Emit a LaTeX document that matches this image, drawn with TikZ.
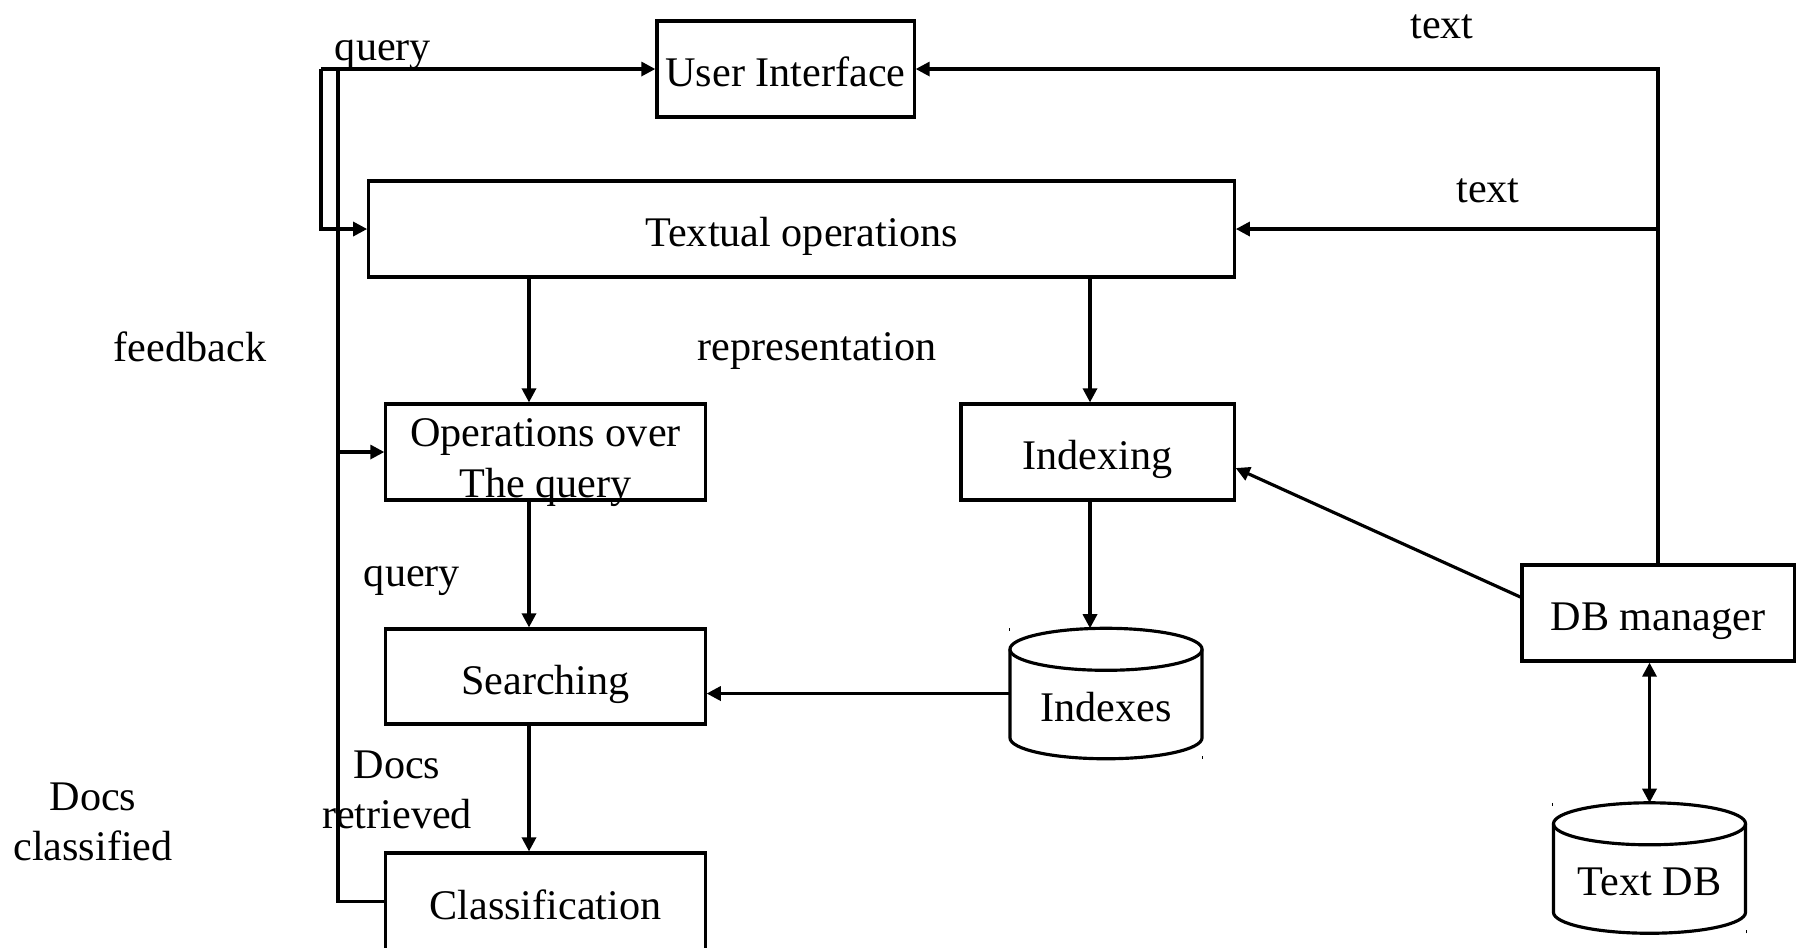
\documentclass[tikz,border=0pt]{standalone}
\usepackage{fontspec}
\setmainfont{Liberation Serif}
\usetikzlibrary{arrows.meta}

% outline of a database drum around a (rectangular, undrawn) node
\newcommand\storeoutline[1]{%
  \draw[conn] ([yshift=-0.21cm]#1.north) ellipse[x radius=0.96cm, y radius=0.21cm];
  \draw[conn] ([shift={(-0.96cm,-0.21cm)}]#1.north) -- ([shift={(-0.96cm,0.21cm)}]#1.south)
    arc[start angle=180, end angle=360, x radius=0.96cm, y radius=0.21cm]
    -- ([shift={(0.96cm,-0.21cm)}]#1.north);
  \draw[line width=0.3pt] (#1.north west) -- ++(0,-0.03cm);
  \draw[line width=0.3pt] (#1.south east) -- ++(0,0.03cm);
}

\begin{document}
\begin{tikzpicture}[x=0.01cm, y=-0.01cm,
  every node/.style={font=\fontsize{12}{14.3}\selectfont, inner sep=0pt},
  box/.style={draw, rectangle, line width=0.9pt, text height=10.2pt, text depth=0pt},
  store/.style={rectangle, minimum width=1.92cm, minimum height=1.29cm,
                text height=15.9pt, text depth=0pt},
  lbl/.style={align=center},
  conn/.style={line width=0.9pt},
  arr/.style={conn, -{Triangle[length=4pt,width=4pt]}},
  darr/.style={conn, {Triangle[length=4pt,width=4pt]}-{Triangle[length=4pt,width=4pt]}}
]
\useasboundingbox (0,0) rectangle (1800,947);
\fill[white] (0,0) rectangle (1800,947);
\clip (0,0) rectangle (1800,947);

% processing boxes
\node[box, minimum width=2.57cm, minimum height=0.96cm] (ui)   at (785.5,69)  {User Interface};
\node[box, minimum width=8.65cm, minimum height=0.96cm] (txt)  at (801.5,229) {Textual operations};
\node[box, minimum width=3.19cm, minimum height=0.96cm, align=center,
      font=\fontsize{12}{14.7}\selectfont, text height=26pt, text depth=0pt]
                                                        (ops)  at (545.5,452) {Operations over\\The query};
\node[box, minimum width=2.73cm, minimum height=0.96cm] (ixg)  at (1097.5,452) {Indexing};
\node[box, minimum width=3.19cm, minimum height=0.95cm] (srch) at (545.5,676.5) {Searching};
\node[box, minimum width=3.19cm, minimum height=0.97cm] (cls)  at (545.5,901.5) {Classification};
\node[box, minimum width=2.72cm, minimum height=0.96cm] (db)   at (1658,613)  {DB manager};

% data stores
\node[store] (idx) at (1106,693.5) {Indexes};
\node[store] (tdb) at (1649.5,868) {Text DB};
\storeoutline{idx}
\storeoutline{tdb}

% routing points
\coordinate (qtop)  at (321,69);
\coordinate (fbtop) at (338,69);
\coordinate (rtop)  at (1658,69);
\coordinate (colL)  at (529,0);
\coordinate (colR)  at (1090,0);

% query and feedback loop on the left
\draw[arr] (qtop) -- (ui.west);
\draw[arr] (qtop) |- (txt.west);
\draw[conn] (cls.west) -| (fbtop);
\draw[arr] (fbtop |- ops.west) -- (ops.west);

% text from the database manager
\draw[arr] (db.north) -- (rtop) -- (ui.east);
\draw[arr] (rtop |- txt.east) -- (txt.east);

% main pipeline
\draw[arr] (txt.south -| colL) -- (ops.north -| colL);
\draw[arr] (ops.south -| colL) -- (srch.north -| colL);
\draw[arr] (srch.south -| colL) -- (cls.north -| colL);
\draw[arr] (txt.south -| colR) -- (ixg.north -| colR);
\draw[arr] (ixg.south -| colR) -- (idx.north -| colR);
\draw[arr] (idx.west) -- (srch.east |- idx.west);
\draw[arr] ([yshift=0.16cm]db.west) -- ([yshift=-0.16cm]ixg.east);
\draw[darr] (db.south -| tdb.north) -- (tdb.north);

% labels
\node[anchor=base] (lq1)  at (383,60)  {query};
\node[anchor=base] (lt1)  at (1442,38) {text};
\node[anchor=base] (lt2)  at (1488,202) {text};
\node[anchor=base] (lfb)  at (190,361) {feedback};
\node[anchor=base] (lrep) at (817,360) {representation};
\node[anchor=base] (lq2)  at (412,586) {query};
\node[lbl] (ldr) at (397,790) {Docs\\retrieved};
\node[lbl] (ldc) at (93,822)  {Docs\\classified};
\end{tikzpicture}
\end{document}
